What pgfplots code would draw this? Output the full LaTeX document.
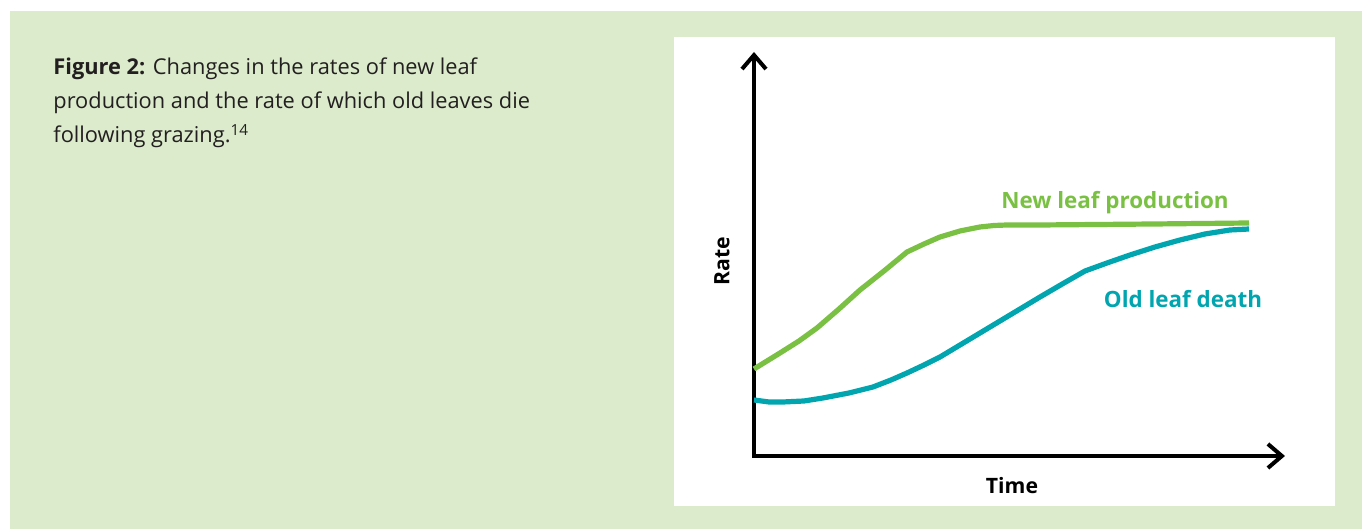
\documentclass[border=0pt]{standalone}
\usepackage{pgfplots}
\pgfplotsset{compat=1.18}
\usepackage{fontspec}
\setmainfont{Open Sans}
\usetikzlibrary{arrows.meta}
\definecolor{bggreen}{HTML}{DBEBCC}
\definecolor{leafgreen}{HTML}{7AC143}
\definecolor{tealc}{HTML}{00A5AF}
\definecolor{txt}{HTML}{231F20}
\begin{document}
\begin{tikzpicture}[x=0.5pt,y=0.5pt]
\fill[white] (0,0) rectangle (1362,529);
\fill[bggreen] (10,0) rectangle (1362,518);
\fill[white] (674,23) rectangle (1335,492);
\begin{scope}[every node/.style={anchor=base west, inner sep=0pt, text=txt, font=\fontsize{10.9}{17}\selectfont}]
\node at (53,454) {\textbf{Figure 2:} Changes in the rates of new leaf};
\node at (53,420) {production and the rate of which old leaves die};
\node at (53,386) {following grazing.\textsuperscript{14}};
\end{scope}
\begin{axis}[
  at={(754,73)}, anchor=south west, scale only axis,
  width=265.5pt, height=202pt,
  xmin=0, xmax=531, ymin=0, ymax=404,
  axis lines=left, ticks=none, clip=false,
  axis line style={line width=2pt, line cap=rect, -{Straight Barb[length=7pt,width=12pt]}},
  xlabel={Time}, ylabel={Rate},
  xlabel style={at={(axis cs:258,-30)}, anchor=center, font=\bfseries\fontsize{10.6}{12}\selectfont},
  ylabel style={at={(axis cs:-32,195)}, anchor=center, rotate=0, font=\bfseries\fontsize{10.6}{12}\selectfont},
]
\addplot[leafgreen, line width=2.6pt, line join=round] coordinates {
(0,87) (13,95) (26,103) (45,115) (63,128) (85,147) (106,166) (130,185) (153,204) (170,212) (186,219) (206,225) (226,229) (240,230.5) (253,231) (286,231) (400,232) (495,233)
};
\addplot[tealc, line width=2.6pt, line join=round] coordinates {
(0,56) (15,54) (29,54) (50,55) (69,58) (95,63) (119,69) (137,76) (153,83) (170,91) (186,99) (211,114) (236,129) (261,144) (286,159) (310,173) (331,185) (353,193) (376,201) (401,209) (426,216) (451,222) (476,226) (495,227)
};
\node[text=leafgreen, font=\bfseries\fontsize{11.2}{12}\selectfont] at (axis cs:361,253) {New leaf production};
\node[text=tealc, font=\bfseries\fontsize{11.2}{12}\selectfont] at (axis cs:429,157) {Old leaf death};
\end{axis}
\end{tikzpicture}
\end{document}
